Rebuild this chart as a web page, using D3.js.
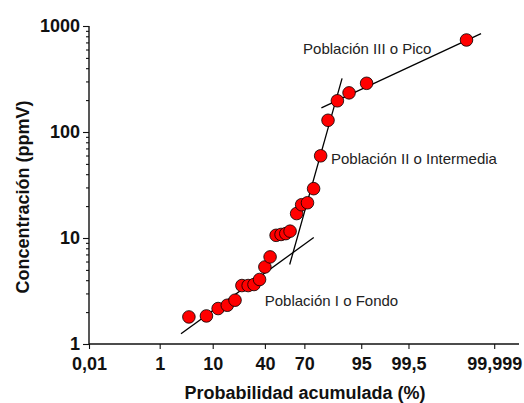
<!DOCTYPE html>
<html>
<head>
<meta charset="utf-8">
<script src="https://cdn.jsdelivr.net/npm/d3@7"></script>
<style>
  html, body { margin: 0; padding: 0; background: #fff; }
  svg { display: block; }
  text { font-family: "Liberation Sans", Arial, sans-serif; }
</style>
</head>
<body>
<svg id="chart" width="524" height="403"></svg>
<script>
// Cumulative probability (%) and concentration (ppmV) of each sample
const probabilities = [4, 8, 12, 16, 20, 24, 28, 32, 36, 40, 44, 48.7, 52.6, 56.3, 59.6,
                       64.5, 68.1, 72.1, 76, 80.1, 83.9, 88, 92, 96, 99.99];
const concentrations = [1.8, 1.84, 2.16, 2.32, 2.59, 3.56, 3.56, 3.64, 4.06, 5.33, 6.63,
                        10.6, 10.8, 11.0, 11.6, 17.0, 20.6, 21.5, 29.2, 59.6, 129, 197, 234, 288, 738];

// Fitted population lines: [start, end] in (probability %, ppmV)
const lineProb = [[2.83, 76.1], [59.3, 89.75], [80.5, 99.9969]];
const lineConc = [[1.25, 10.1], [5.62, 321], [169, 846]];

// Axis tick labels
const xTickValues = [0.01, 1, 10, 40, 70, 95, 99.5, 99.999];
const xTickLabels = ["0,01", "1", "10", "40", "70", "95", "99,5", "99,999"];
const yTickValues = [1, 10, 100, 1000];
const yTickLabels = ["1", "10", "100", "1000"];

// Population annotations
const popLabels = ["Población I o Fondo", "Población II o Intermedia", "Población III o Pico"];
const popLabelProb = [39.9, 85.3, 69.1];
const popLabelConc = [2.27, 50, 550];

// Inverse of the standard normal CDF (Acklam's rational approximation)
function probit(p) {
  const a = [-3.969683028665376e+01, 2.209460984245205e+02, -2.759285104469687e+02,
             1.383577518672690e+02, -3.066479806614716e+01, 2.506628277459239e+00];
  const b = [-5.447609879822406e+01, 1.615858368580409e+02, -1.556989798598866e+02,
             6.680131188771972e+01, -1.328068155288572e+01];
  const c = [-7.784894002430293e-03, -3.223964580411365e-01, -2.400758277161838e+00,
             -2.549732539343734e+00, 4.374664141464968e+00, 2.938163982698783e+00];
  const d = [7.784695709041462e-03, 3.224671290700398e-01, 2.445134137142996e+00,
             3.754408661907416e+00];
  const plow = 0.02425, phigh = 1 - plow;
  let q, r;
  if (p < plow) {
    q = Math.sqrt(-2 * Math.log(p));
    return (((((c[0]*q + c[1])*q + c[2])*q + c[3])*q + c[4])*q + c[5]) /
           ((((d[0]*q + d[1])*q + d[2])*q + d[3])*q + 1);
  } else if (p <= phigh) {
    q = p - 0.5; r = q * q;
    return (((((a[0]*r + a[1])*r + a[2])*r + a[3])*r + a[4])*r + a[5]) * q /
           (((((b[0]*r + b[1])*r + b[2])*r + b[3])*r + b[4])*r + 1);
  } else {
    q = Math.sqrt(-2 * Math.log(1 - p));
    return -(((((c[0]*q + c[1])*q + c[2])*q + c[3])*q + c[4])*q + c[5]) /
            ((((d[0]*q + d[1])*q + d[2])*q + d[3])*q + 1);
  }
}

const plotLeft = 89, plotRight = 519, plotTop = 26, plotBottom = 344;

// Normal-probability x scale: linear in z, addressed in percent
const zScale = d3.scaleLinear()
  .domain([probit(0.0001), probit(0.999999)])
  .range([plotLeft, plotRight]);
const x = pct => zScale(probit(pct / 100));

const y = d3.scaleLog().domain([1, 1000]).range([plotBottom, plotTop]);

const svg = d3.select("#chart");

// Y axis: major ticks with labels, minor log ticks without
const minorY = [];
for (let dec = 1; dec < 1000; dec *= 10)
  for (let k = 2; k <= 9; k++) minorY.push(k * dec);

const yAxisMinor = svg.append("g")
  .attr("transform", `translate(${plotLeft},0)`)
  .call(d3.axisLeft(y).tickValues(minorY).tickSize(3).tickFormat(""));
const yAxis = svg.append("g")
  .attr("transform", `translate(${plotLeft},0)`)
  .call(d3.axisLeft(y).tickValues(yTickValues).tickSize(6).tickPadding(3)
    .tickFormat((d, i) => yTickLabels[i]));

// X axis drawn through the probit mapping
const xAxis = svg.append("g")
  .attr("transform", `translate(0,${plotBottom})`)
  .call(d3.axisBottom(zScale)
    .tickValues(xTickValues.map(p => probit(p / 100)))
    .tickSize(5).tickPadding(8)
    .tickFormat((d, i) => xTickLabels[i]));

[yAxis, yAxisMinor, xAxis].forEach(g => {
  g.select(".domain").attr("stroke", "#111").attr("stroke-width", 1.4);
  g.selectAll(".tick line").attr("stroke", "#111").attr("stroke-width", 1.1);
});
yAxisMinor.select(".domain").remove();
yAxis.select(".domain").attr("d", `M0,${y(1)}V${y(1000)}`);
xAxis.select(".domain").attr("d", `M${plotLeft},0H${plotRight}`);
[yAxis, xAxis].forEach(g => g.selectAll(".tick text")
  .attr("font-family", "'Liberation Sans', Arial, sans-serif")
  .attr("font-size", 18).attr("font-weight", "bold").attr("fill", "#111"));

// Axis titles
svg.append("text")
  .attr("x", 305).attr("y", 399)
  .attr("text-anchor", "middle")
  .attr("font-size", 18).attr("font-weight", "bold").attr("fill", "#111")
  .text("Probabilidad acumulada (%)");
svg.append("text")
  .attr("transform", "translate(29,197) rotate(-90)")
  .attr("text-anchor", "middle")
  .attr("font-size", 18).attr("font-weight", "bold").attr("fill", "#111")
  .text("Concentración (ppmV)");

// Fitted lines for each population
svg.append("g").selectAll("line")
  .data(d3.range(lineProb.length))
  .join("line")
  .attr("x1", i => x(lineProb[i][0])).attr("y1", i => y(lineConc[i][0]))
  .attr("x2", i => x(lineProb[i][1])).attr("y2", i => y(lineConc[i][1]))
  .attr("stroke", "#000").attr("stroke-width", 1.3);

// Sample points
svg.append("g").selectAll("circle")
  .data(d3.range(probabilities.length))
  .join("circle")
  .attr("cx", i => x(probabilities[i]))
  .attr("cy", i => y(concentrations[i]))
  .attr("r", 6.3)
  .attr("fill", "#ff0000")
  .attr("stroke", "#000").attr("stroke-width", 0.8);

// Population annotations
svg.append("g").selectAll("text")
  .data(popLabels)
  .join("text")
  .attr("x", (d, i) => x(popLabelProb[i]))
  .attr("y", (d, i) => y(popLabelConc[i]))
  .attr("font-size", 15).attr("fill", "#222")
  .text(d => d);
</script>
</body>
</html>
